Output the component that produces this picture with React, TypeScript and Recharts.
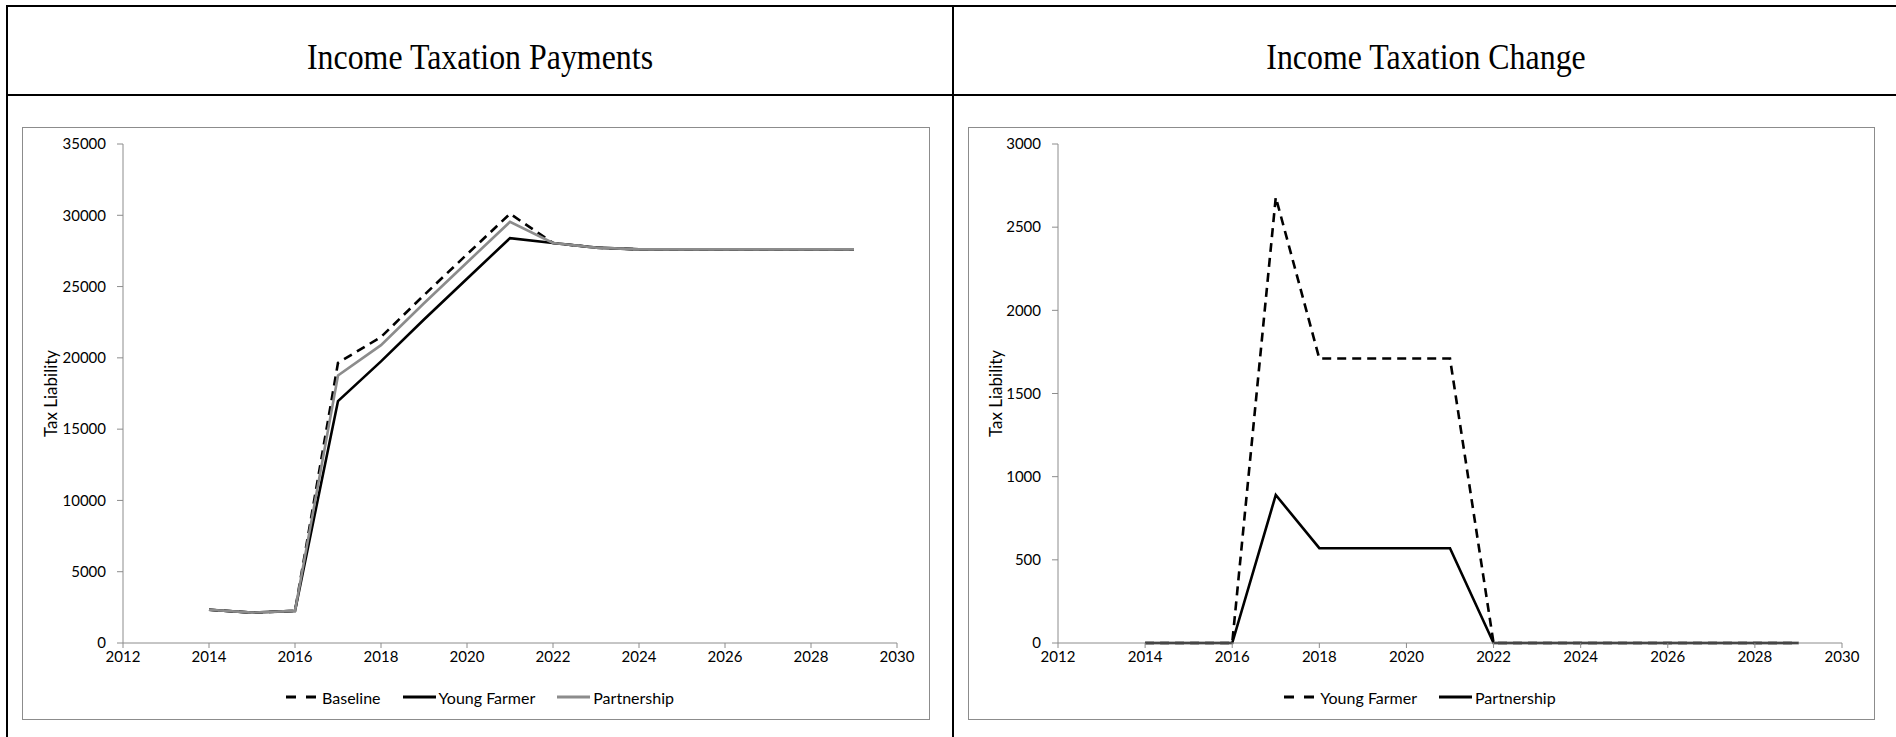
import React from 'react';
import { LineChart, Line, XAxis, YAxis, Legend } from 'recharts';

// Years covered by the projections
const years = [2014, 2015, 2016, 2017, 2018, 2019, 2020, 2021, 2022, 2023, 2024, 2025, 2026, 2027, 2028, 2029];

// Income tax payments (tax liability) per scenario
const baselinePayments = [2330, 2130, 2250, 19650, 21460, 24400, 27260, 30110, 28060, 27730, 27610, 27610, 27610, 27610, 27610, 27610];
const youngFarmerPayments = [2330, 2130, 2250, 16970, 19750, 22690, 25550, 28400, 28060, 27730, 27610, 27610, 27610, 27610, 27610, 27610];
const partnershipPayments = [2330, 2130, 2250, 18760, 20890, 23830, 26690, 29540, 28060, 27730, 27610, 27610, 27610, 27610, 27610, 27610];

// Reduction in tax liability relative to the baseline
const youngFarmerChange = [0, 0, 0, 2680, 1710, 1710, 1710, 1710, 0, 0, 0, 0, 0, 0, 0, 0];
const partnershipChange = [0, 0, 0, 890, 570, 570, 570, 570, 0, 0, 0, 0, 0, 0, 0, 0];

// Axis ticks
const yearTicks = [2012, 2014, 2016, 2018, 2020, 2022, 2024, 2026, 2028, 2030];
const paymentTicks = [0, 5000, 10000, 15000, 20000, 25000, 30000, 35000];
const changeTicks = [0, 500, 1000, 1500, 2000, 2500, 3000];

const paymentsData = years.map((year, i) => ({
  year,
  baseline: baselinePayments[i],
  youngFarmer: youngFarmerPayments[i],
  partnership: partnershipPayments[i],
}));

const changeData = years.map((year, i) => ({
  year,
  youngFarmer: youngFarmerChange[i],
  partnership: partnershipChange[i],
}));

type SeriesDef = { key: string; name: string; color: string; dash?: string; legendDash?: string };

const paymentSeries: SeriesDef[] = [
  { key: 'baseline', name: 'Baseline', color: '#000000', dash: '9 6', legendDash: '10 10' },
  { key: 'youngFarmer', name: 'Young Farmer', color: '#000000' },
  { key: 'partnership', name: 'Partnership', color: '#8c8c8c' },
];

const changeSeries: SeriesDef[] = [
  { key: 'youngFarmer', name: 'Young Farmer', color: '#000000', dash: '9 6', legendDash: '10 10' },
  { key: 'partnership', name: 'Partnership', color: '#000000' },
];

const AXIS_GREY = '#8c8c8c';
const SANS = 'Lato, "Open Sans", sans-serif';
const SERIF = '"Liberation Serif", "Times New Roman", serif';

function LegendRow({ series }: { series: SeriesDef[] }) {
  return (
    <div
      style={{
        display: 'flex',
        justifyContent: 'center',
        alignItems: 'center',
        height: 20,
        fontFamily: SANS,
        fontSize: 16,
        color: '#000',
      }}
    >
      {series.map((s, i) => (
        <div key={s.key} style={{ display: 'flex', alignItems: 'center', marginLeft: i === 0 ? 0 : 22 }}>
          <svg width={33} height={6} style={{ display: 'block' }}>
            <line
              x1={0}
              y1={3}
              x2={33}
              y2={3}
              stroke={s.color}
              strokeWidth={3}
              strokeDasharray={s.legendDash}
            />
          </svg>
          <span style={{ marginLeft: 3, whiteSpace: 'nowrap' }}>{s.name}</span>
        </div>
      ))}
    </div>
  );
}

type PanelProps = {
  data: Record<string, number>[];
  series: SeriesDef[];
  yMax: number;
  yTicks: number[];
  width: number;
  marginLeft: number;
  titleX: number;
};

function Panel({ data, series, yMax, yTicks, width, marginLeft, titleX }: PanelProps) {
  const height = 591;
  const top = 16;
  const plotHeight = 499;
  const midY = top + plotHeight / 2;
  return (
    <LineChart
      width={width}
      height={height}
      data={data}
      margin={{ top, right: 32, left: marginLeft, bottom: 12 }}
    >
      <XAxis
        dataKey="year"
        type="number"
        domain={[2012, 2030]}
        ticks={yearTicks}
        interval={0}
        height={44}
        tickSize={5}
        tickMargin={3}
        axisLine={{ stroke: AXIS_GREY }}
        tickLine={{ stroke: AXIS_GREY }}
        tick={{ fill: '#000', fontSize: 15, fontFamily: SANS }}
      />
      <YAxis
        type="number"
        domain={[0, yMax]}
        ticks={yTicks}
        interval={0}
        width={60}
        tickSize={6}
        tickMargin={11}
        axisLine={{ stroke: AXIS_GREY }}
        tickLine={{ stroke: AXIS_GREY }}
        tick={{ fill: '#000', fontSize: 15, fontFamily: SANS }}
        label={() => (
          <text
            x={titleX}
            y={midY}
            transform={`rotate(-90, ${titleX}, ${midY})`}
            textAnchor="middle"
            dominantBaseline="central"
            fontFamily={SANS}
            fontSize={17}
            fill="#000"
          >
            Tax Liability
          </text>
        )}
      />
      <Legend verticalAlign="bottom" align="center" content={() => <LegendRow series={series} />} />
      {series.map((s) => (
        <Line
          key={s.key}
          dataKey={s.key}
          name={s.name}
          type="linear"
          stroke={s.color}
          strokeWidth={2.6}
          strokeDasharray={s.dash}
          dot={false}
          activeDot={false}
          isAnimationActive={false}
        />
      ))}
    </LineChart>
  );
}

export default function App() {
  return (
    <div
      style={{
        position: 'absolute',
        left: 0,
        top: 0,
        width: 1896,
        height: 737,
        background: '#fff',
        overflow: 'hidden',
      }}
    >
      <svg width={1896} height={737} style={{ position: 'absolute', left: 0, top: 0 }}>
        {/* table rules */}
        <rect x={6} y={5} width={1900} height={2} fill="#000" />
        <rect x={6} y={94} width={1900} height={2} fill="#000" />
        <rect x={6} y={5} width={2} height={740} fill="#000" />
        <rect x={952} y={5} width={2} height={740} fill="#000" />
        {/* headings */}
        <text
          transform="translate(480, 69) scale(0.886, 1)"
          textAnchor="middle"
          fontFamily={SERIF}
          fontSize={36}
          fill="#000"
        >
          Income Taxation Payments
        </text>
        <text
          transform="translate(1426, 69) scale(0.886, 1)"
          textAnchor="middle"
          fontFamily={SERIF}
          fontSize={36}
          fill="#000"
        >
          Income Taxation Change
        </text>
      </svg>

      <div
        style={{
          position: 'absolute',
          left: 22,
          top: 127,
          width: 908,
          height: 593,
          boxSizing: 'border-box',
          border: `1px solid ${AXIS_GREY}`,
          background: '#fff',
        }}
      >
        <Panel
          data={paymentsData}
          series={paymentSeries}
          yMax={35000}
          yTicks={paymentTicks}
          width={906}
          marginLeft={40}
          titleX={27}
        />
      </div>

      <div
        style={{
          position: 'absolute',
          left: 968,
          top: 127,
          width: 907,
          height: 593,
          boxSizing: 'border-box',
          border: `1px solid ${AXIS_GREY}`,
          background: '#fff',
        }}
      >
        <Panel
          data={changeData}
          series={changeSeries}
          yMax={3000}
          yTicks={changeTicks}
          width={905}
          marginLeft={29}
          titleX={26}
        />
      </div>
    </div>
  );
}
